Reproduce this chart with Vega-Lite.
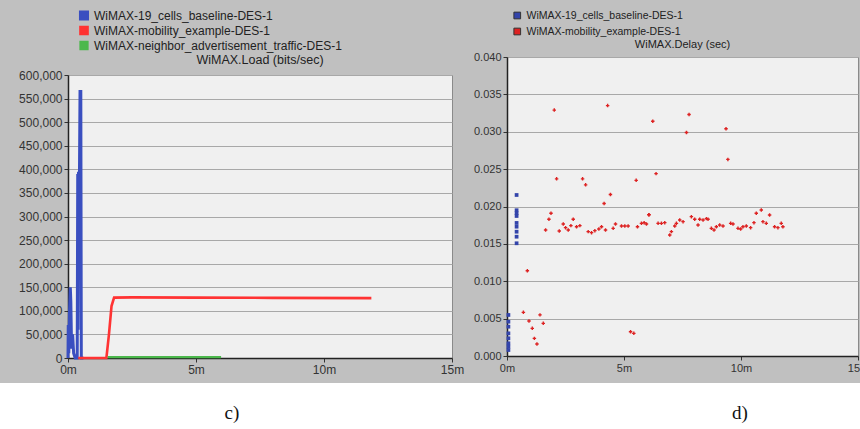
{
  "$schema": "https://vega.github.io/schema/vega-lite/v6.json",
  "background": "#c0c0c0",
  "padding": {"top": 9, "left": 0, "right": 0, "bottom": 0},
  "spacing": 7,
  "config": {
    "font": "Liberation Sans",
    "view": {"fill": "#f0f0f0", "stroke": "#8a8a8a"},
    "axis": {
      "labelFont": "Liberation Sans",
      "labelColor": "#333333",
      "domainColor": "#222222",
      "domainWidth": 1.5,
      "tickColor": "#333333",
      "tickSize": 4,
      "labelPadding": 2,
      "gridColor": "#a8a8a8",
      "gridWidth": 1
    },
    "legend": {
      "labelFont": "Liberation Sans",
      "labelColor": "#222222",
      "labelLimit": 400,
      "symbolType": "square",
      "symbolStrokeColor": "#333333",
      "symbolStrokeWidth": 1
    },
    "title": {"font": "Liberation Sans", "fontWeight": "normal", "color": "#222222", "frame": "group", "anchor": "middle"}
  },
  "datasets": {
    "load": [
      {"series": "WiMAX-19_cells_baseline-DES-1", "t": 0.00, "v": 0},
      {"series": "WiMAX-19_cells_baseline-DES-1", "t": 0.01, "v": 70000},
      {"series": "WiMAX-19_cells_baseline-DES-1", "t": 0.03, "v": 10000},
      {"series": "WiMAX-19_cells_baseline-DES-1", "t": 0.06, "v": 100000},
      {"series": "WiMAX-19_cells_baseline-DES-1", "t": 0.09, "v": 150000},
      {"series": "WiMAX-19_cells_baseline-DES-1", "t": 0.11, "v": 120000},
      {"series": "WiMAX-19_cells_baseline-DES-1", "t": 0.14, "v": 20000},
      {"series": "WiMAX-19_cells_baseline-DES-1", "t": 0.18, "v": 50000},
      {"series": "WiMAX-19_cells_baseline-DES-1", "t": 0.22, "v": 10000},
      {"series": "WiMAX-19_cells_baseline-DES-1", "t": 0.28, "v": 0},
      {"series": "WiMAX-19_cells_baseline-DES-1", "t": 0.36, "v": 0},
      {"series": "WiMAX-19_cells_baseline-DES-1", "t": 0.38, "v": 390000},
      {"series": "WiMAX-19_cells_baseline-DES-1", "t": 0.39, "v": 60000},
      {"series": "WiMAX-19_cells_baseline-DES-1", "t": 0.41, "v": 395000},
      {"series": "WiMAX-19_cells_baseline-DES-1", "t": 0.43, "v": 250000},
      {"series": "WiMAX-19_cells_baseline-DES-1", "t": 0.47, "v": 565000},
      {"series": "WiMAX-19_cells_baseline-DES-1", "t": 0.50, "v": 565000},
      {"series": "WiMAX-19_cells_baseline-DES-1", "t": 0.52, "v": 0},
      {"series": "WiMAX-19_cells_baseline-DES-1", "t": 0.60, "v": 0},
      {"series": "WiMAX-mobility_example-DES-1", "t": 0.40, "v": 0},
      {"series": "WiMAX-mobility_example-DES-1", "t": 1.50, "v": 0},
      {"series": "WiMAX-mobility_example-DES-1", "t": 1.60, "v": 50000},
      {"series": "WiMAX-mobility_example-DES-1", "t": 1.70, "v": 110000},
      {"series": "WiMAX-mobility_example-DES-1", "t": 1.80, "v": 128000},
      {"series": "WiMAX-mobility_example-DES-1", "t": 2.50, "v": 128500},
      {"series": "WiMAX-mobility_example-DES-1", "t": 5.00, "v": 128000},
      {"series": "WiMAX-mobility_example-DES-1", "t": 8.00, "v": 127500},
      {"series": "WiMAX-mobility_example-DES-1", "t": 11.85, "v": 127000},
      {"series": "WiMAX-neighbor_advertisement_traffic-DES-1", "t": 1.55, "v": 2000},
      {"series": "WiMAX-neighbor_advertisement_traffic-DES-1", "t": 3.00, "v": 2000},
      {"series": "WiMAX-neighbor_advertisement_traffic-DES-1", "t": 4.50, "v": 2000},
      {"series": "WiMAX-neighbor_advertisement_traffic-DES-1", "t": 5.98, "v": 2000}
    ],
    "delay": [
      {"source": "WiMAX-19_cells_baseline-DES-1", "t": 0.41, "d": 0.02154},
      {"source": "WiMAX-19_cells_baseline-DES-1", "t": 0.41, "d": 0.0195},
      {"source": "WiMAX-19_cells_baseline-DES-1", "t": 0.41, "d": 0.0191},
      {"source": "WiMAX-19_cells_baseline-DES-1", "t": 0.41, "d": 0.01873},
      {"source": "WiMAX-19_cells_baseline-DES-1", "t": 0.41, "d": 0.0178},
      {"source": "WiMAX-19_cells_baseline-DES-1", "t": 0.41, "d": 0.0173},
      {"source": "WiMAX-19_cells_baseline-DES-1", "t": 0.41, "d": 0.01663},
      {"source": "WiMAX-19_cells_baseline-DES-1", "t": 0.41, "d": 0.01596},
      {"source": "WiMAX-19_cells_baseline-DES-1", "t": 0.41, "d": 0.01508},
      {"source": "WiMAX-19_cells_baseline-DES-1", "t": 0.06, "d": 0.00549},
      {"source": "WiMAX-19_cells_baseline-DES-1", "t": 0.06, "d": 0.00459},
      {"source": "WiMAX-19_cells_baseline-DES-1", "t": 0.06, "d": 0.00392},
      {"source": "WiMAX-19_cells_baseline-DES-1", "t": 0.06, "d": 0.00303},
      {"source": "WiMAX-19_cells_baseline-DES-1", "t": 0.06, "d": 0.00237},
      {"source": "WiMAX-19_cells_baseline-DES-1", "t": 0.06, "d": 0.0017},
      {"source": "WiMAX-19_cells_baseline-DES-1", "t": 0.06, "d": 0.00125},
      {"source": "WiMAX-19_cells_baseline-DES-1", "t": 0.06, "d": 0.0008},
      {"source": "WiMAX-mobility_example-DES-1", "t": 2.02, "d": 0.0329},
      {"source": "WiMAX-mobility_example-DES-1", "t": 4.30, "d": 0.0335},
      {"source": "WiMAX-mobility_example-DES-1", "t": 7.78, "d": 0.0323},
      {"source": "WiMAX-mobility_example-DES-1", "t": 6.23, "d": 0.0314},
      {"source": "WiMAX-mobility_example-DES-1", "t": 7.67, "d": 0.0299},
      {"source": "WiMAX-mobility_example-DES-1", "t": 9.36, "d": 0.0304},
      {"source": "WiMAX-mobility_example-DES-1", "t": 9.44, "d": 0.0263},
      {"source": "WiMAX-mobility_example-DES-1", "t": 2.12, "d": 0.0237},
      {"source": "WiMAX-mobility_example-DES-1", "t": 3.23, "d": 0.0237},
      {"source": "WiMAX-mobility_example-DES-1", "t": 3.36, "d": 0.0229},
      {"source": "WiMAX-mobility_example-DES-1", "t": 5.52, "d": 0.0235},
      {"source": "WiMAX-mobility_example-DES-1", "t": 6.37, "d": 0.0244},
      {"source": "WiMAX-mobility_example-DES-1", "t": 4.42, "d": 0.0216},
      {"source": "WiMAX-mobility_example-DES-1", "t": 4.15, "d": 0.0204},
      {"source": "WiMAX-mobility_example-DES-1", "t": 1.88, "d": 0.0191},
      {"source": "WiMAX-mobility_example-DES-1", "t": 6.07, "d": 0.0189},
      {"source": "WiMAX-mobility_example-DES-1", "t": 0.87, "d": 0.0114},
      {"source": "WiMAX-mobility_example-DES-1", "t": 0.70, "d": 0.00584},
      {"source": "WiMAX-mobility_example-DES-1", "t": 0.94, "d": 0.00468},
      {"source": "WiMAX-mobility_example-DES-1", "t": 1.08, "d": 0.0037},
      {"source": "WiMAX-mobility_example-DES-1", "t": 1.17, "d": 0.00236},
      {"source": "WiMAX-mobility_example-DES-1", "t": 1.28, "d": 0.0016},
      {"source": "WiMAX-mobility_example-DES-1", "t": 1.41, "d": 0.0055},
      {"source": "WiMAX-mobility_example-DES-1", "t": 1.55, "d": 0.00437},
      {"source": "WiMAX-mobility_example-DES-1", "t": 5.28, "d": 0.00325},
      {"source": "WiMAX-mobility_example-DES-1", "t": 5.42, "d": 0.00303},
      {"source": "WiMAX-mobility_example-DES-1", "t": 1.650, "d": 0.01686},
      {"source": "WiMAX-mobility_example-DES-1", "t": 1.792, "d": 0.01829},
      {"source": "WiMAX-mobility_example-DES-1", "t": 2.233, "d": 0.01673},
      {"source": "WiMAX-mobility_example-DES-1", "t": 2.404, "d": 0.01766},
      {"source": "WiMAX-mobility_example-DES-1", "t": 2.503, "d": 0.01717},
      {"source": "WiMAX-mobility_example-DES-1", "t": 2.617, "d": 0.01686},
      {"source": "WiMAX-mobility_example-DES-1", "t": 2.731, "d": 0.01744},
      {"source": "WiMAX-mobility_example-DES-1", "t": 2.830, "d": 0.01829},
      {"source": "WiMAX-mobility_example-DES-1", "t": 2.973, "d": 0.0173},
      {"source": "WiMAX-mobility_example-DES-1", "t": 3.115, "d": 0.01744},
      {"source": "WiMAX-mobility_example-DES-1", "t": 3.470, "d": 0.01664},
      {"source": "WiMAX-mobility_example-DES-1", "t": 3.613, "d": 0.0165},
      {"source": "WiMAX-mobility_example-DES-1", "t": 3.755, "d": 0.01677},
      {"source": "WiMAX-mobility_example-DES-1", "t": 3.926, "d": 0.01699},
      {"source": "WiMAX-mobility_example-DES-1", "t": 4.040, "d": 0.0173},
      {"source": "WiMAX-mobility_example-DES-1", "t": 4.210, "d": 0.01686},
      {"source": "WiMAX-mobility_example-DES-1", "t": 4.537, "d": 0.01708},
      {"source": "WiMAX-mobility_example-DES-1", "t": 4.637, "d": 0.01766},
      {"source": "WiMAX-mobility_example-DES-1", "t": 4.893, "d": 0.01739},
      {"source": "WiMAX-mobility_example-DES-1", "t": 5.035, "d": 0.01739},
      {"source": "WiMAX-mobility_example-DES-1", "t": 5.177, "d": 0.01739},
      {"source": "WiMAX-mobility_example-DES-1", "t": 5.576, "d": 0.0173},
      {"source": "WiMAX-mobility_example-DES-1", "t": 5.746, "d": 0.01775},
      {"source": "WiMAX-mobility_example-DES-1", "t": 5.860, "d": 0.01784},
      {"source": "WiMAX-mobility_example-DES-1", "t": 5.960, "d": 0.01766},
      {"source": "WiMAX-mobility_example-DES-1", "t": 6.059, "d": 0.01891},
      {"source": "WiMAX-mobility_example-DES-1", "t": 6.457, "d": 0.01775},
      {"source": "WiMAX-mobility_example-DES-1", "t": 6.600, "d": 0.01775},
      {"source": "WiMAX-mobility_example-DES-1", "t": 6.742, "d": 0.01784},
      {"source": "WiMAX-mobility_example-DES-1", "t": 6.955, "d": 0.01619},
      {"source": "WiMAX-mobility_example-DES-1", "t": 7.026, "d": 0.01664},
      {"source": "WiMAX-mobility_example-DES-1", "t": 7.169, "d": 0.01739},
      {"source": "WiMAX-mobility_example-DES-1", "t": 7.240, "d": 0.01775},
      {"source": "WiMAX-mobility_example-DES-1", "t": 7.382, "d": 0.0182},
      {"source": "WiMAX-mobility_example-DES-1", "t": 7.524, "d": 0.01797},
      {"source": "WiMAX-mobility_example-DES-1", "t": 7.880, "d": 0.01864},
      {"source": "WiMAX-mobility_example-DES-1", "t": 8.022, "d": 0.01829},
      {"source": "WiMAX-mobility_example-DES-1", "t": 8.164, "d": 0.01753},
      {"source": "WiMAX-mobility_example-DES-1", "t": 8.235, "d": 0.01829},
      {"source": "WiMAX-mobility_example-DES-1", "t": 8.378, "d": 0.0182},
      {"source": "WiMAX-mobility_example-DES-1", "t": 8.520, "d": 0.01838},
      {"source": "WiMAX-mobility_example-DES-1", "t": 8.591, "d": 0.01829},
      {"source": "WiMAX-mobility_example-DES-1", "t": 8.733, "d": 0.01708},
      {"source": "WiMAX-mobility_example-DES-1", "t": 8.847, "d": 0.01686},
      {"source": "WiMAX-mobility_example-DES-1", "t": 8.947, "d": 0.0173},
      {"source": "WiMAX-mobility_example-DES-1", "t": 9.089, "d": 0.01753},
      {"source": "WiMAX-mobility_example-DES-1", "t": 9.231, "d": 0.01739},
      {"source": "WiMAX-mobility_example-DES-1", "t": 9.558, "d": 0.01775},
      {"source": "WiMAX-mobility_example-DES-1", "t": 9.658, "d": 0.01766},
      {"source": "WiMAX-mobility_example-DES-1", "t": 9.871, "d": 0.01708},
      {"source": "WiMAX-mobility_example-DES-1", "t": 9.985, "d": 0.01699},
      {"source": "WiMAX-mobility_example-DES-1", "t": 10.084, "d": 0.0173},
      {"source": "WiMAX-mobility_example-DES-1", "t": 10.227, "d": 0.01739},
      {"source": "WiMAX-mobility_example-DES-1", "t": 10.411, "d": 0.01717},
      {"source": "WiMAX-mobility_example-DES-1", "t": 10.554, "d": 0.01784},
      {"source": "WiMAX-mobility_example-DES-1", "t": 10.653, "d": 0.01909},
      {"source": "WiMAX-mobility_example-DES-1", "t": 10.867, "d": 0.01953},
      {"source": "WiMAX-mobility_example-DES-1", "t": 10.938, "d": 0.01797},
      {"source": "WiMAX-mobility_example-DES-1", "t": 11.080, "d": 0.01775},
      {"source": "WiMAX-mobility_example-DES-1", "t": 11.222, "d": 0.01887},
      {"source": "WiMAX-mobility_example-DES-1", "t": 11.436, "d": 0.0173},
      {"source": "WiMAX-mobility_example-DES-1", "t": 11.578, "d": 0.01717},
      {"source": "WiMAX-mobility_example-DES-1", "t": 11.720, "d": 0.01775},
      {"source": "WiMAX-mobility_example-DES-1", "t": 11.791, "d": 0.0173}
    ]
  },
  "vconcat": [
    {
      "spacing": 7,
      "hconcat": [
        {
          "width": 1, "height": 1,
          "view": {"fill": "transparent", "stroke": null},
          "data": {"values": []},
          "mark": "text",
          "encoding": {}
        },
        {
          "spacing": 0,
          "vconcat": [
            {
              "width": 1, "height": 44,
              "view": {"fill": "transparent", "stroke": null},
              "data": {"values": []},
              "mark": "text",
              "encoding": {}
            },
            {
              "width": 384,
              "height": 283,
              "title": {"text": "WiMAX.Load (bits/sec)", "fontSize": 12.5, "offset": 3},
              "data": {"name": "load"},
              "mark": {"type": "line", "interpolate": "linear"},
              "encoding": {
                "x": {
                  "field": "t", "type": "quantitative",
                  "scale": {"domain": [0, 15]},
                  "axis": {"values": [0, 5, 10, 15], "labelExpr": "datum.value + 'm'", "title": null, "grid": false, "labelFlush": false, "labelFontSize": 12}
                },
                "y": {
                  "field": "v", "type": "quantitative",
                  "scale": {"domain": [0, 600000]},
                  "axis": {"values": [0, 50000, 100000, 150000, 200000, 250000, 300000, 350000, 400000, 450000, 500000, 550000, 600000], "format": ",d", "title": null, "minExtent": 59, "maxExtent": 59, "labelFontSize": 12}
                },
                "color": {
                  "field": "series", "type": "nominal",
                  "scale": {"domain": ["WiMAX-19_cells_baseline-DES-1", "WiMAX-mobility_example-DES-1", "WiMAX-neighbor_advertisement_traffic-DES-1"], "range": ["#3a4fc0", "#ff3333", "#4cb84c"]},
                  "legend": {
                    "orient": "none", "legendX": 78, "legendY": 0, "title": null,
                    "labelFontSize": 12, "symbolSize": 50, "rowPadding": 2, "clipHeight": 13,
                    "encode": {"symbols": {"update": {"fill": {"scale": "color", "field": "value"}, "stroke": {"value": "#333333"}, "strokeWidth": {"value": 1}, "shape": {"value": "square"}}}}
                  }
                },
                "strokeWidth": {
                  "field": "series", "type": "nominal",
                  "scale": {"domain": ["WiMAX-19_cells_baseline-DES-1", "WiMAX-mobility_example-DES-1", "WiMAX-neighbor_advertisement_traffic-DES-1"], "range": [3, 2.2, 1.5]},
                  "legend": null
                }
              }
            }
          ]
        },
        {
          "spacing": 0,
          "vconcat": [
            {
              "width": 1, "height": 29,
              "view": {"fill": "transparent", "stroke": null},
              "data": {"values": []},
              "mark": "text",
              "encoding": {}
            },
            {
              "width": 351,
              "height": 299,
              "title": {"text": "WiMAX.Delay (sec)", "fontSize": 11, "offset": 1},
              "data": {"name": "delay"},
              "encoding": {
                "x": {
                  "field": "t", "type": "quantitative",
                  "scale": {"domain": [0, 15]},
                  "axis": {"values": [0, 5, 10, 15], "labelExpr": "datum.value + 'm'", "title": null, "grid": false, "labelFlush": false, "labelFontSize": 11}
                },
                "y": {
                  "field": "d", "type": "quantitative",
                  "scale": {"domain": [0, 0.04]},
                  "axis": {"values": [0, 0.005, 0.01, 0.015, 0.02, 0.025, 0.03, 0.035, 0.04], "format": ".3f", "title": null, "minExtent": 30, "maxExtent": 30, "labelFontSize": 11}
                },
                "fill": {
                  "field": "source", "type": "nominal",
                  "scale": {"domain": ["WiMAX-19_cells_baseline-DES-1", "WiMAX-mobility_example-DES-1"], "range": ["#3344aa", "#dd2222"]},
                  "legend": {
                    "orient": "none", "legendX": 512, "legendY": 0, "title": null,
                    "labelFontSize": 10.5, "symbolSize": 45, "rowPadding": 3, "clipHeight": 13, "symbolType": "square",
                    "symbolOpacity": 1, "symbolStrokeColor": "#333333", "symbolStrokeWidth": 1
                  }
                }
              },
              "layer": [
                {
                  "transform": [{"filter": "datum.source === 'WiMAX-19_cells_baseline-DES-1'"}],
                  "mark": {"type": "point", "filled": true, "size": 14, "opacity": 1, "shape": "square"}
                },
                {
                  "transform": [{"filter": "datum.source === 'WiMAX-mobility_example-DES-1'"}],
                  "mark": {"type": "point", "filled": true, "size": 12, "opacity": 1, "shape": "cross"}
                }
              ]
            }
          ]
        }
      ]
    },
    {
      "width": 860,
      "height": 49,
      "view": {"fill": "#ffffff", "stroke": null},
      "data": {"values": [{"cap": "c)"}, {"cap": "d)"}]},
      "mark": {"type": "text", "font": "Liberation Serif", "fontSize": 19, "color": "#111111", "baseline": "middle", "dy": 5},
      "encoding": {
        "x": {"field": "cap", "type": "nominal", "scale": {"type": "point", "padding": 0.3465, "align": 0.659}, "axis": null},
        "text": {"field": "cap"}
      }
    }
  ]
}
